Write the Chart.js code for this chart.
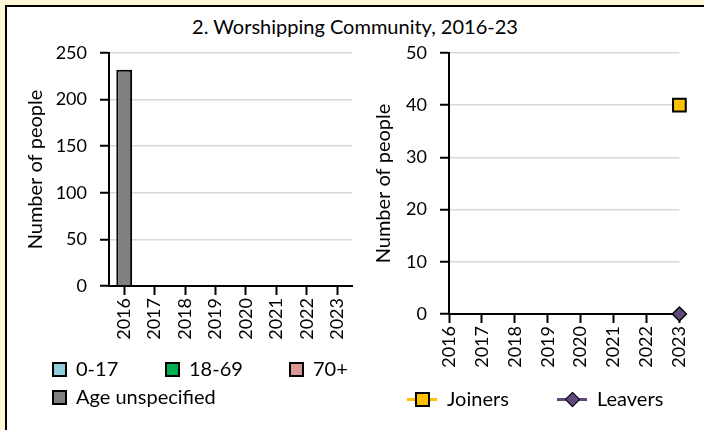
<!DOCTYPE html>
<html>
<head>
<meta charset="utf-8">
<script src="https://cdn.jsdelivr.net/npm/chart.js@4.4.0/dist/chart.umd.min.js"></script>
<style>
  html, body { margin: 0; padding: 0; }
  body { width: 704px; height: 430px; background: #fff8d6; position: relative; overflow: hidden; font-family: Lato, sans-serif; color: #000; }
  #frame { position: absolute; left: 5px; top: 5px; width: 720px; height: 440px; border: 2px solid #000; background: #fff; }
  #title { position: absolute; left: 0; top: 14px; width: 710px; text-align: center; font-size: 20px; line-height: 24px; }
  #ageChart { position: absolute; left: 0; top: 0; }
  #flowChart { position: absolute; left: 362px; top: 0; }
  .leg { position: absolute; font-size: 20px; line-height: 24px; white-space: nowrap; }
  .box { position: absolute; width: 11px; height: 11px; border: 2px solid #000; }
  .ln { position: absolute; height: 3px; }
  .mk { position: absolute; border: 2px solid #000; box-sizing: border-box; }
</style>
</head>
<body>
<div id="frame"></div>
<div id="title">2. Worshipping Community, 2016-23</div>
<canvas id="ageChart" width="362" height="340"></canvas>
<canvas id="flowChart" width="342" height="372"></canvas>
<div id="legends"></div>

<script>
// data
const years = ['2016', '2017', '2018', '2019', '2020', '2021', '2022', '2023'];
const ageLabels = ['0-17', '18-69', '70+', 'Age unspecified'];
const age0to17 = [null, null, null, null, null, null, null, null];
const age18to69 = [null, null, null, null, null, null, null, null];
const age70plus = [null, null, null, null, null, null, null, null];
const ageUnspecified = [232, null, null, null, null, null, null, null];
const flowLabels = ['Joiners', 'Leavers'];
const joiners = [null, null, null, null, null, null, null, 40];
const leavers = [null, null, null, null, null, null, null, 0];

const ageColors = ['#92cddc', '#00b050', '#da9694', '#808080'];
const flowColors = ['#ffc000', '#604a7b'];

Chart.defaults.font.family = 'Lato, sans-serif';
Chart.defaults.font.size = 18;
Chart.defaults.color = '#000';

const ageSeries = [age0to17, age18to69, age70plus, ageUnspecified];

new Chart(document.getElementById('ageChart'), {
  type: 'bar',
  data: {
    labels: years,
    datasets: ageSeries.map((d, i) => ({
      label: ageLabels[i],
      data: d,
      backgroundColor: ageColors[i],
      borderColor: '#000',
      borderWidth: 2,
      barPercentage: 0.52,
      categoryPercentage: 1
    }))
  },
  options: {
    responsive: false,
    animation: false,
    layout: { padding: { top: 53, right: 4, left: 0, bottom: 0 } },
    plugins: { legend: { display: false }, tooltip: { enabled: false } },
    scales: {
      x: {
        stacked: true,
        grid: { drawOnChartArea: false, offset: false, tickLength: 9, tickWidth: 2, tickColor: '#000' },
        border: { color: '#000', width: 2 },
        ticks: { autoSkip: false, maxRotation: 90, minRotation: 90, padding: 3 },
        afterFit: s => { s.height = 54; }
      },
      y: {
        stacked: true,
        min: 0,
        max: 250,
        ticks: { stepSize: 50, padding: 13 },
        grid: { color: '#d9d9d9', lineWidth: 1.5, tickLength: 9, tickWidth: 2, tickColor: '#000' },
        border: { color: '#000', width: 2 },
        title: { display: true, text: 'Number of people', font: { size: 20 }, padding: { top: 24, bottom: 0 } },
        afterFit: s => { s.width = 109; }
      }
    }
  }
});

const flowSeries = [joiners, leavers];
const flowStyles = [
  { pointStyle: 'rect', pointRadius: 9, pointBorderWidth: 2 },
  { pointStyle: 'rectRot', pointRadius: 7, pointBorderWidth: 1.5 }
];

new Chart(document.getElementById('flowChart'), {
  type: 'line',
  data: {
    labels: years,
    datasets: flowSeries.map((d, i) => ({
      label: flowLabels[i],
      data: d,
      borderColor: flowColors[i],
      backgroundColor: flowColors[i],
      pointBorderColor: '#000',
      borderWidth: 3,
      clip: false,
      ...flowStyles[i]
    }))
  },
  options: {
    responsive: false,
    animation: false,
    layout: { padding: { top: 53, right: 23, left: 0, bottom: 0 } },
    plugins: { legend: { display: false }, tooltip: { enabled: false } },
    scales: {
      x: {
        grid: { drawOnChartArea: false, tickLength: 9, tickWidth: 2, tickColor: '#000' },
        border: { color: '#000', width: 2 },
        ticks: { autoSkip: false, maxRotation: 90, minRotation: 90, padding: 3 },
        afterFit: s => { s.height = 58; }
      },
      y: {
        min: 0,
        max: 50,
        ticks: { stepSize: 10, padding: 13 },
        grid: { color: '#d9d9d9', lineWidth: 1.5, tickLength: 9, tickWidth: 2, tickColor: '#000' },
        border: { color: '#000', width: 2 },
        title: { display: true, text: 'Number of people', font: { size: 20 }, padding: { top: 10, bottom: 0 } },
        afterFit: s => { s.width = 87; }
      }
    }
  }
});

// legends, placed like the original
const legends = document.getElementById('legends');
const agePos = [[52, 369], [165, 369], [289, 369], [52, 397]];
ageLabels.forEach((name, i) => {
  const [x, y] = agePos[i];
  const b = document.createElement('div');
  b.className = 'box';
  b.style.left = x + 'px';
  b.style.top = (y - 7) + 'px';
  b.style.background = ageColors[i];
  legends.appendChild(b);
  const t = document.createElement('div');
  t.className = 'leg';
  t.style.left = (x + 24) + 'px';
  t.style.top = (y - 13) + 'px';
  t.textContent = name;
  legends.appendChild(t);
});

const flowPos = [407, 557];
flowLabels.forEach((name, i) => {
  const x = flowPos[i], y = 399;
  const l = document.createElement('div');
  l.className = 'ln';
  l.style.left = x + 'px';
  l.style.top = (y - 1) + 'px';
  l.style.width = '30px';
  l.style.background = flowColors[i];
  legends.appendChild(l);
  const m = document.createElement('div');
  m.className = 'mk';
  const s = i === 0 ? 15 : 11;
  m.style.width = s + 'px';
  m.style.height = s + 'px';
  m.style.left = (x + 15 - s / 2) + 'px';
  m.style.top = (y + 0.5 - s / 2) + 'px';
  m.style.background = flowColors[i];
  if (i === 1) { m.style.transform = 'rotate(45deg)'; m.style.borderWidth = '1.5px'; }
  legends.appendChild(m);
  const t = document.createElement('div');
  t.className = 'leg';
  t.style.left = (x + 40) + 'px';
  t.style.top = (y - 13) + 'px';
  t.textContent = name;
  legends.appendChild(t);
});
</script>
</body>
</html>
